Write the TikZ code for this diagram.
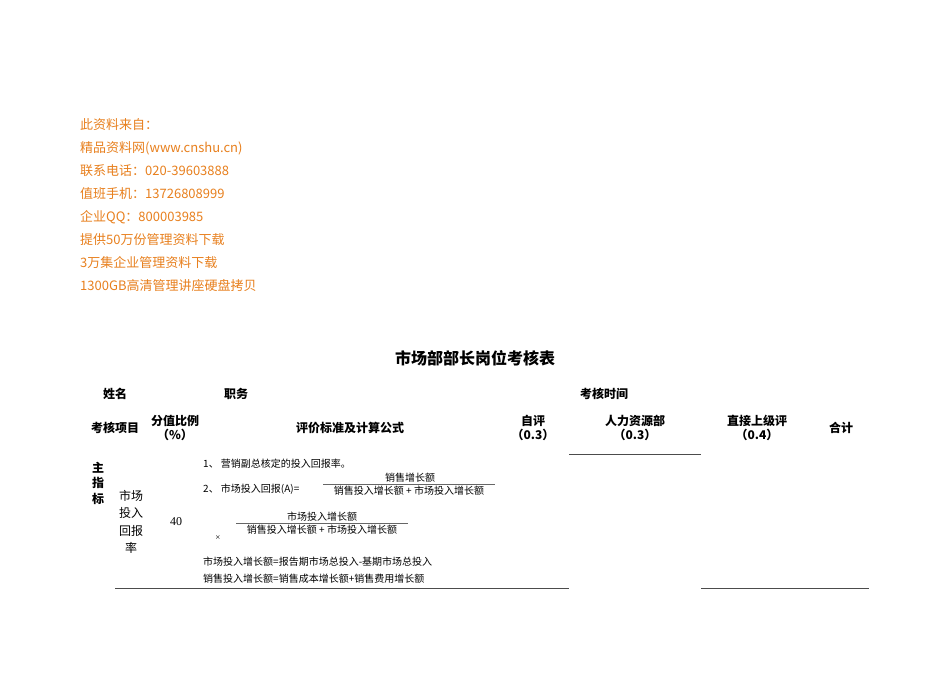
\documentclass[tikz,border=0pt]{standalone}
\usepackage{fontspec}
\setmainfont{Liberation Serif}
\newfontfamily\cjk{Noto Sans CJK SC}
\definecolor{org}{HTML}{E8801E}
\begin{document}
\begin{tikzpicture}[x=1pt,y=-1pt,
  src/.style={anchor=west,inner sep=0,text=org,font=\cjk\fontsize{13}{15}\selectfont},
  hd/.style={inner sep=0,font=\cjk\bfseries\fontsize{12}{14}\selectfont,align=center},
  tx/.style={inner sep=0,font=\cjk\fontsize{10}{12}\selectfont,anchor=west},
  rule/.style={draw=black!70,line width=0.6pt}]
\useasboundingbox[fill=white] (0,0) rectangle (950,672);
\node[src] (s1) at (80,125) {此资料来自：};
\node[src] (s2) at (80,148) {精品资料网(www.cnshu.cn)};
\node[src] (s3) at (80,171) {联系电话：020-39603888};
\node[src] (s4) at (80,194) {值班手机：13726808999};
\node[src] (s5) at (80,217) {企业QQ：800003985};
\node[src] (s6) at (80,240) {提供50万份管理资料下载};
\node[src] (s7) at (80,263) {3万集企业管理资料下载};
\node[src] (s8) at (80,286) {1300GB高清管理讲座硬盘拷贝};
\node[hd,font=\cjk\bfseries\fontsize{16}{18}\selectfont] (title) at (475,358) {市场部部长岗位考核表};
\node[hd] (h1) at (115,394) {姓名};
\node[hd] (h2) at (236,394) {职务};
\node[hd] (h3) at (604,394) {考核时间};
\node[hd] (c1) at (115,428) {考核项目};
\node[hd] (c2) at (175,428) {分值比例\\（\%）};
\node[hd] (c3) at (350,428) {评价标准及计算公式};
\node[hd] (c4) at (533,428) {自评\\（0.3）};
\node[hd] (c5) at (635,428) {人力资源部\\（0.3）};
\node[hd] (c6) at (757,428) {直接上级评\\（0.4）};
\node[hd] (c7) at (841,428) {合计};
\draw[rule] (569,454) -- (701,454);
\node[hd,font=\cjk\bfseries\fontsize{12}{15.5}\selectfont] (m) at (98,483) {主\\指\\标};
\node[inner sep=0,align=center,font=\cjk\fontsize{12}{17.5}\selectfont] (item) at (131,522) {市场\\投入\\回报\\率};
\node[inner sep=0,font=\fontsize{12}{14}\selectfont] (score) at (176,522) {40};
\node[tx] (l1) at (203,464) {1、 营销副总核定的投入回报率。};
\node[tx] (l2) at (203,489) {2、 市场投入回报(A)=};
\node[inner sep=0,font=\cjk\fontsize{10}{12}\selectfont] (n1) at (410,478) {销售增长额};
\node[inner sep=0,font=\cjk\fontsize{10}{12}\selectfont] (d1) at (409,491) {销售投入增长额 + 市场投入增长额};
\draw[black!60,line width=0.4pt] (323,484.5) -- (495,484.5);
\node[inner sep=0,font=\cjk\fontsize{10}{12}\selectfont] (n2) at (322,517) {市场投入增长额};
\node[inner sep=0,font=\cjk\fontsize{10}{12}\selectfont] (d2) at (322,530) {销售投入增长额 + 市场投入增长额};
\draw[black!60,line width=0.4pt] (236,523.5) -- (408,523.5);
\node[inner sep=0,font=\fontsize{9}{10}\selectfont] (x) at (218,538) {×};
\node[tx] (l3) at (203,562) {市场投入增长额=报告期市场总投入-基期市场总投入};
\node[tx] (l4) at (203,579) {销售投入增长额=销售成本增长额+销售费用增长额};
\draw[rule] (115,588.5) -- (569,588.5);
\draw[rule] (701,588.5) -- (869,588.5);
\end{tikzpicture}
\end{document}
